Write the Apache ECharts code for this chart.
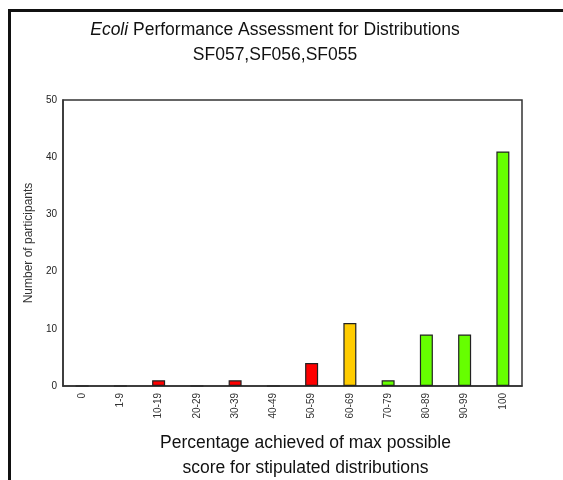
<!DOCTYPE html>
<html>
<head>
<meta charset="utf-8">
<script src="https://cdn.jsdelivr.net/npm/echarts@6/dist/echarts.min.js"></script>
<style>
    html, body { margin: 0; padding: 0; background: #fff; }
    #chart { width: 563px; height: 480px; }
</style>
</head>
<body>
<div id="chart"></div>
<script>
// score bands and number of participants in each
const categories = ['0', '1-9', '10-19', '20-29', '30-39', '40-49', '50-59', '60-69', '70-79', '80-89', '90-99', '100'];
const participants = [0, 0, 1, 0, 1, 0, 4, 11, 1, 9, 9, 41];
const barColors = ['#ff0000', '#ff0000', '#ff0000', '#ff0000', '#ff0000', '#ff0000', '#ff0000', '#ffcc00', '#66ff00', '#66ff00', '#66ff00', '#66ff00'];
const yTicks = [0, 10, 20, 30, 40, 50];

let myCharts = echarts.init(document.getElementById('chart'));
let option = {
    animation: false,
    textStyle: {
        fontFamily: 'Liberation Sans, Arial, sans-serif'
    },
    title: {
        text: '{i|Ecoli} Performance Assessment for Distributions\nSF057,SF056,SF055',
        left: 270,
        textAlign: 'center',
        top: 13,
        textStyle: {
            fontSize: 17.5,
            fontWeight: 'normal',
            color: '#111',
            lineHeight: 25,
            rich: {
                i: { fontSize: 17.5, fontStyle: 'italic', color: '#111' }
            }
        }
    },
    graphic: [
        {
            type: 'polyline',
            shape: { points: [[9.5, 490], [9.5, 10.5], [570, 10.5]] },
            style: { stroke: '#111', lineWidth: 3, fill: null }
        }
    ],
    grid: {
        left: 63,
        right: 41,
        top: 100,
        bottom: 94,
        outerBoundsMode: 'none',
        containLabel: false,
        show: true,
        borderColor: '#333',
        borderWidth: 1.5
    },
    xAxis: {
        type: 'category',
        data: categories,
        axisLine: { show: true, lineStyle: { color: '#333', width: 1.5 } },
        axisTick: { show: false },
        axisLabel: {
            rotate: 90,
            fontSize: 10,
            color: '#333',
            margin: 7,
            interval: 0
        },
        name: 'Percentage achieved of max possible\nscore for stipulated distributions',
        nameLocation: 'middle',
        nameGap: 45,
        nameTextStyle: {
            fontSize: 17.5,
            color: '#111',
            lineHeight: 25,
            padding: [0, 0, 0, 26]
        }
    },
    yAxis: {
        type: 'value',
        min: yTicks[0],
        max: yTicks[yTicks.length - 1],
        interval: 10,
        splitLine: { show: false },
        axisLine: { show: true, lineStyle: { color: '#333', width: 1.5 } },
        axisTick: { show: false },
        axisLabel: {
            fontSize: 10,
            color: '#222',
            margin: 6
        },
        name: 'Number of participants',
        nameLocation: 'middle',
        nameGap: 28,
        nameTextStyle: {
            fontSize: 12,
            color: '#333'
        }
    },
    series: [
        {
            type: 'bar',
            barWidth: 13,
            data: participants.map(function (v, i) {
                return {
                    value: v,
                    itemStyle: { color: barColors[i], borderColor: '#222', borderWidth: 1.2 }
                };
            })
        }
    ]
};
myCharts.setOption(option);
</script>
</body>
</html>
